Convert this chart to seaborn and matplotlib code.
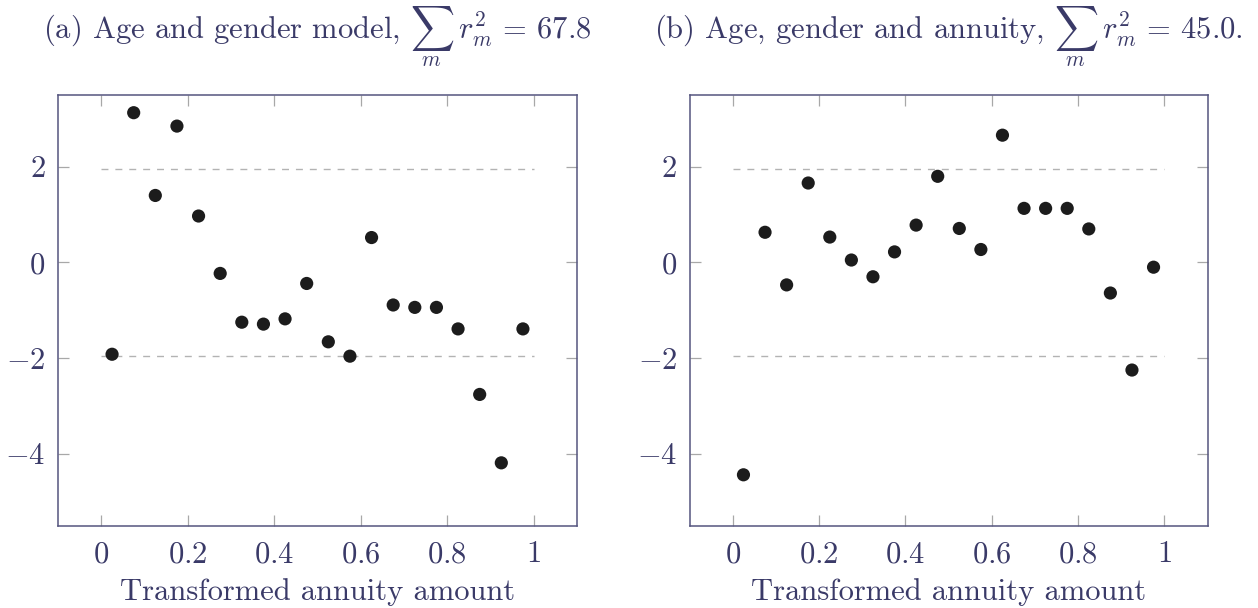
import numpy as np
import pandas as pd
import matplotlib
matplotlib.use("Agg")
import matplotlib.pyplot as plt
import seaborn as sns

# Transformed annuity amount (bin midpoints)
annuity = [0.025, 0.075, 0.125, 0.175, 0.225, 0.275, 0.325, 0.375, 0.425, 0.475,
           0.525, 0.575, 0.625, 0.675, 0.725, 0.775, 0.825, 0.875, 0.925, 0.975]

# Standardised residuals, age and gender model
resid_age_gender = [-1.92, 3.13, 1.40, 2.85, 0.97, -0.23, -1.25, -1.29, -1.18, -0.44,
                    -1.66, -1.96, 0.52, -0.89, -0.94, -0.94, -1.39, -2.76, -4.19, -1.39]

# Standardised residuals, age, gender and annuity model
resid_with_annuity = [-4.44, 0.63, -0.47, 1.66, 0.53, 0.05, -0.30, 0.22, 0.78, 1.80,
                      0.71, 0.27, 2.66, 1.13, 1.13, 1.13, 0.70, -0.64, -2.25, -0.10]

titles = [r"(a) Age and gender model, $\sum_{m}\; r_m^2 \,=\, 67.8$",
          r"(b) Age, gender and annuity, $\sum_{m}\; r_m^2 \,=\, 45.0.$"]
xlabel = "Transformed annuity amount"
xticks = [0, 0.2, 0.4, 0.6, 0.8, 1]
xticklabels = ["$0$", "$0.2$", "$0.4$", "$0.6$", "$0.8$", "$1$"]
yticks = [-4, -2, 0, 2]
yticklabels = ["$-4$", "$-2$", "$0$", "$2$"]
band = 1.96

sns.set_theme(style="white")
plt.rcParams.update({
    "font.family": "serif",
    "font.serif": ["cmr10", "DejaVu Serif"],
    "mathtext.fontset": "cm",
    "axes.formatter.use_mathtext": True,
    "axes.unicode_minus": True,
})

text_col = "#3a3a68"
spine_col = "#55557f"
tick_col = "#a8a8a8"

fig = plt.figure(figsize=(12.58, 6.08), dpi=100)
boxes = [[58 / 1258, 1 - 525.5 / 608, 519 / 1258, 430.5 / 608],
         [689.5 / 1258, 1 - 525.5 / 608, 518 / 1258, 430.5 / 608]]

for box, resid, title in zip(boxes, [resid_age_gender, resid_with_annuity], titles):
    ax = fig.add_axes(box)
    df = pd.DataFrame({"x": annuity, "r": resid})
    ax.plot([0, 1], [band, band], ls=(0, (5, 5)), color="#b3b3b3", lw=1.0, zorder=1)
    ax.plot([0, 1], [-band, -band], ls=(0, (5, 5)), color="#b3b3b3", lw=1.0, zorder=1)
    sns.scatterplot(data=df, x="x", y="r", ax=ax, color="#1c1c1c", s=90,
                    edgecolor="none", zorder=3)
    ax.set_xlim(-0.1, 1.1)
    ax.set_ylim(-5.5, 3.5)
    ax.set_xticks(xticks)
    ax.set_xticklabels(xticklabels)
    ax.set_yticks(yticks)
    ax.set_yticklabels(yticklabels)
    ax.tick_params(axis="both", direction="in", length=8, width=0.9, color=tick_col,
                   labelsize=22, labelcolor=text_col, top=True, right=True,
                   bottom=True, left=True)
    ax.tick_params(axis="x", pad=11)
    ax.tick_params(axis="y", pad=9)
    for sp in ax.spines.values():
        sp.set_color(spine_col)
        sp.set_linewidth(1.1)
    ax.set_xlabel(xlabel, fontsize=22, color=text_col, labelpad=7)
    ax.set_ylabel("")
    ax.set_title(title, fontsize=22, color=text_col, pad=40)

fig.savefig("out.png", dpi=100)
